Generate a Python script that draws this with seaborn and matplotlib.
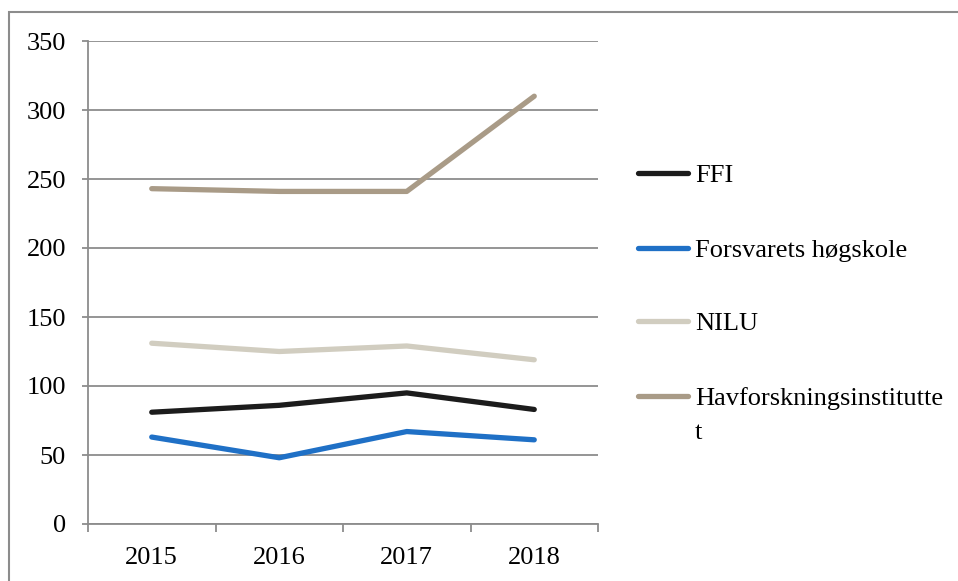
import matplotlib
matplotlib.use("Agg")
import matplotlib.pyplot as plt
import seaborn as sns
import pandas as pd
from matplotlib.patches import Rectangle
from matplotlib.lines import Line2D

years = ["2015", "2016", "2017", "2018"]
ffi = [81, 86, 95, 83]
fhs = [63, 48, 67, 61]
nilu = [131, 125, 129, 119]
hav = [243, 241, 241, 310]
series_names = ["FFI", "Forsvarets høgskole", "NILU", "Havforskningsinstitutte\nt"]
colors = ["#1c1c1c", "#1f70c6", "#d1cdc0", "#a99b87"]
yticks = [0, 50, 100, 150, 200, 250, 300, 350]

rows = []
for name, vals in zip(series_names, [ffi, fhs, nilu, hav]):
    for y, v in zip(years, vals):
        rows.append({"year": y, "value": v, "series": name})
df = pd.DataFrame(rows)

sns.set_style("white")
plt.rcParams["font.family"] = ["Liberation Serif", "DejaVu Serif"]

W, H = 958, 581
fig = plt.figure(figsize=(W/100, H/100), dpi=100)
ax = fig.add_axes([88/W, 1-524/H, 510/W, 483/H])

sns.lineplot(data=df, x="year", y="value", hue="series", hue_order=series_names,
             palette=colors, linewidth=3.8, ax=ax, sort=False, legend=False,
             solid_capstyle="round")

ax.set_xlim(-0.5, 3.5)
ax.set_ylim(0, 350)
ax.set_yticks(yticks)
ax.set_yticklabels([str(t) for t in yticks])
ax.set_xticks(range(len(years)))
ax.set_xticklabels(years)
ax.set_xticks([-0.5, 0.5, 1.5, 2.5, 3.5], minor=True)
ax.set_xlabel("")
ax.set_ylabel("")

gcol = "#8c8c8c"
ax.yaxis.grid(True, color=gcol, linewidth=1.3)
ax.xaxis.grid(False)
ax.set_axisbelow(True)
for s in ["top", "right"]:
    ax.spines[s].set_visible(False)
ax.spines["left"].set_color(gcol)
ax.spines["left"].set_linewidth(1.3)
ax.spines["bottom"].set_color(gcol)
ax.spines["bottom"].set_linewidth(1.3)

ax.tick_params(axis="y", which="major", left=True, length=4.3, width=1.3, color=gcol,
               labelsize=19, pad=11.5, labelcolor="black")
ax.tick_params(axis="x", which="major", bottom=False, labelsize=19, pad=13, labelcolor="black")
ax.tick_params(axis="x", which="minor", bottom=True, length=6, width=1.3, color=gcol)

# legend (drawn at the positions of the original)
leg_y = [173, 248, 321, 396]
for name, col, yy in zip(series_names, colors, leg_y):
    yf = 1 - yy/H
    fig.add_artist(Line2D([638/W, 688/W], [yf, yf], transform=fig.transFigure,
                          color=col, linewidth=3.8, solid_capstyle="round"))
    fig.text(695/W, 1 - (yy + 9)/H, name.split("\n")[0], fontsize=19,
             va="baseline", ha="left", color="black")
    extra = name.split("\n")[1:]
    for i, line in enumerate(extra):
        fig.text(695/W, 1 - (yy + 9 + 34*(i+1))/H, line, fontsize=19,
                 va="baseline", ha="left", color="black")

fig.patches.append(Rectangle((9/W, -0.1), 1.2, (1-12/H)+0.1, transform=fig.transFigure,
                             fill=False, edgecolor="#8c8c8c", linewidth=1.5))

fig.savefig("out.png", dpi=100)
